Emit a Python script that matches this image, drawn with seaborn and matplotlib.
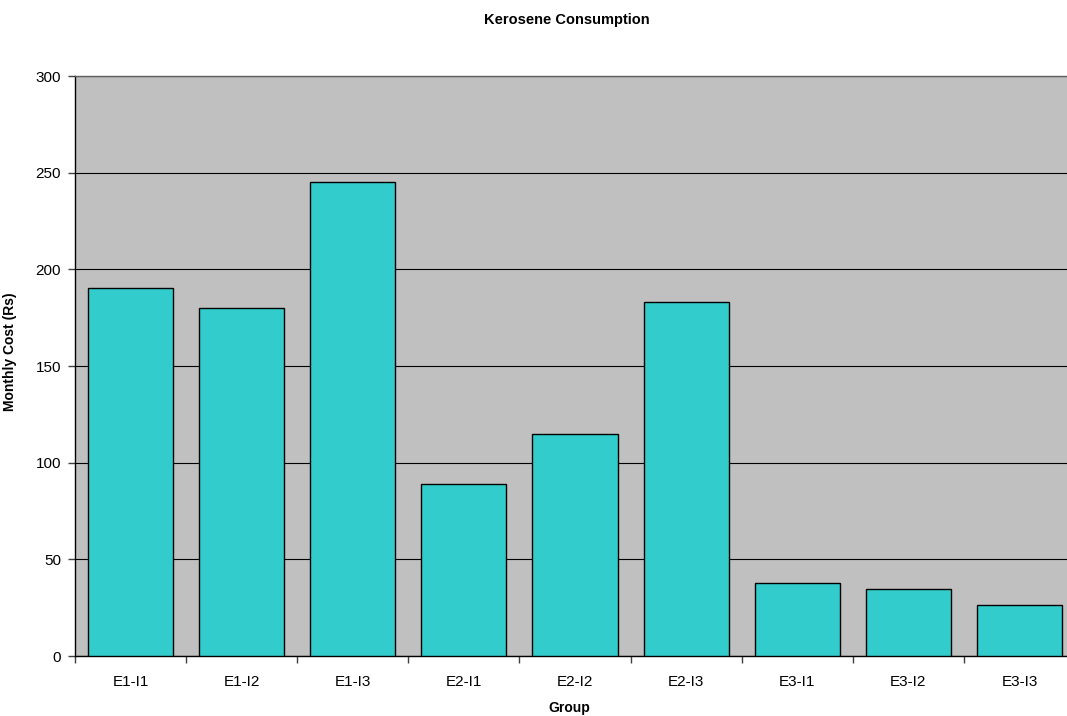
import numpy as np
import pandas as pd
import matplotlib
matplotlib.use("Agg")
import matplotlib.pyplot as plt
import seaborn as sns

groups = ["E1-I1", "E1-I2", "E1-I3", "E2-I1", "E2-I2", "E2-I3", "E3-I1", "E3-I2", "E3-I3"]
monthly_cost = [190.5, 179.8, 245.2, 89.0, 114.8, 183.2, 37.8, 34.8, 26.5]
y_ticks = [0, 50, 100, 150, 200, 250, 300]

sns.set_theme(style="white")
plt.rcParams["font.family"] = ["Liberation Sans", "DejaVu Sans"]

df = pd.DataFrame({"Group": groups, "Cost": monthly_cost})

W, H = 1067, 716
fig = plt.figure(figsize=(W / 100, H / 100), dpi=100)
# plot area runs slightly past the right edge of the canvas
ax = fig.add_axes([75 / W, 60 / H, 1000 / W, 580 / H])
ax.set_facecolor("#c0c0c0")

sns.barplot(data=df, x="Group", y="Cost", color="#33cccc", saturation=1,
            width=0.766, edgecolor="black", linewidth=1.0, ax=ax, zorder=3)

ax.set_ylim(0, 300)
ax.set_xlim(-0.5, len(groups) - 0.5)
ax.set_yticks(y_ticks)
ax.yaxis.grid(True, color="black", linewidth=0.8, zorder=0)
ax.set_axisbelow(True)

# ticks sit between categories on the x axis
ax.set_xticks(np.arange(-0.5, len(groups), 1.0), minor=True)
ax.tick_params(axis="x", which="major", length=0, labelsize=11, pad=13.5,
               labelcolor="black")
ax.tick_params(axis="x", which="minor", length=5, width=1, color="#404040", bottom=True)
ax.tick_params(axis="y", which="major", length=5, width=1, labelsize=11,
               color="#404040", labelcolor="black", left=True, pad=5)

for side in ["left", "bottom"]:
    ax.spines[side].set_color("black")
    ax.spines[side].set_linewidth(1.0)
ax.spines["top"].set_color("#606060")
ax.spines["top"].set_linewidth(1.0)
ax.spines["right"].set_visible(False)

ax.set_xlabel("Group", fontsize=10, fontweight="bold", color="black")
ax.xaxis.set_label_coords((569 - 75) / 1000, -(708 - 656) / 580)
ax.xaxis.label.set_verticalalignment("center")
ax.set_ylabel("Monthly Cost (Rs)", fontsize=10, fontweight="bold", color="black")
ax.yaxis.set_label_coords(-(75 - 17) / 1000, (656 - 352) / 580)
fig.text(567 / W, 1 - 20 / H, "Kerosene Consumption", ha="center", va="center",
         fontsize=10.5, fontweight="bold", color="black")

fig.savefig("out.png", dpi=100)
